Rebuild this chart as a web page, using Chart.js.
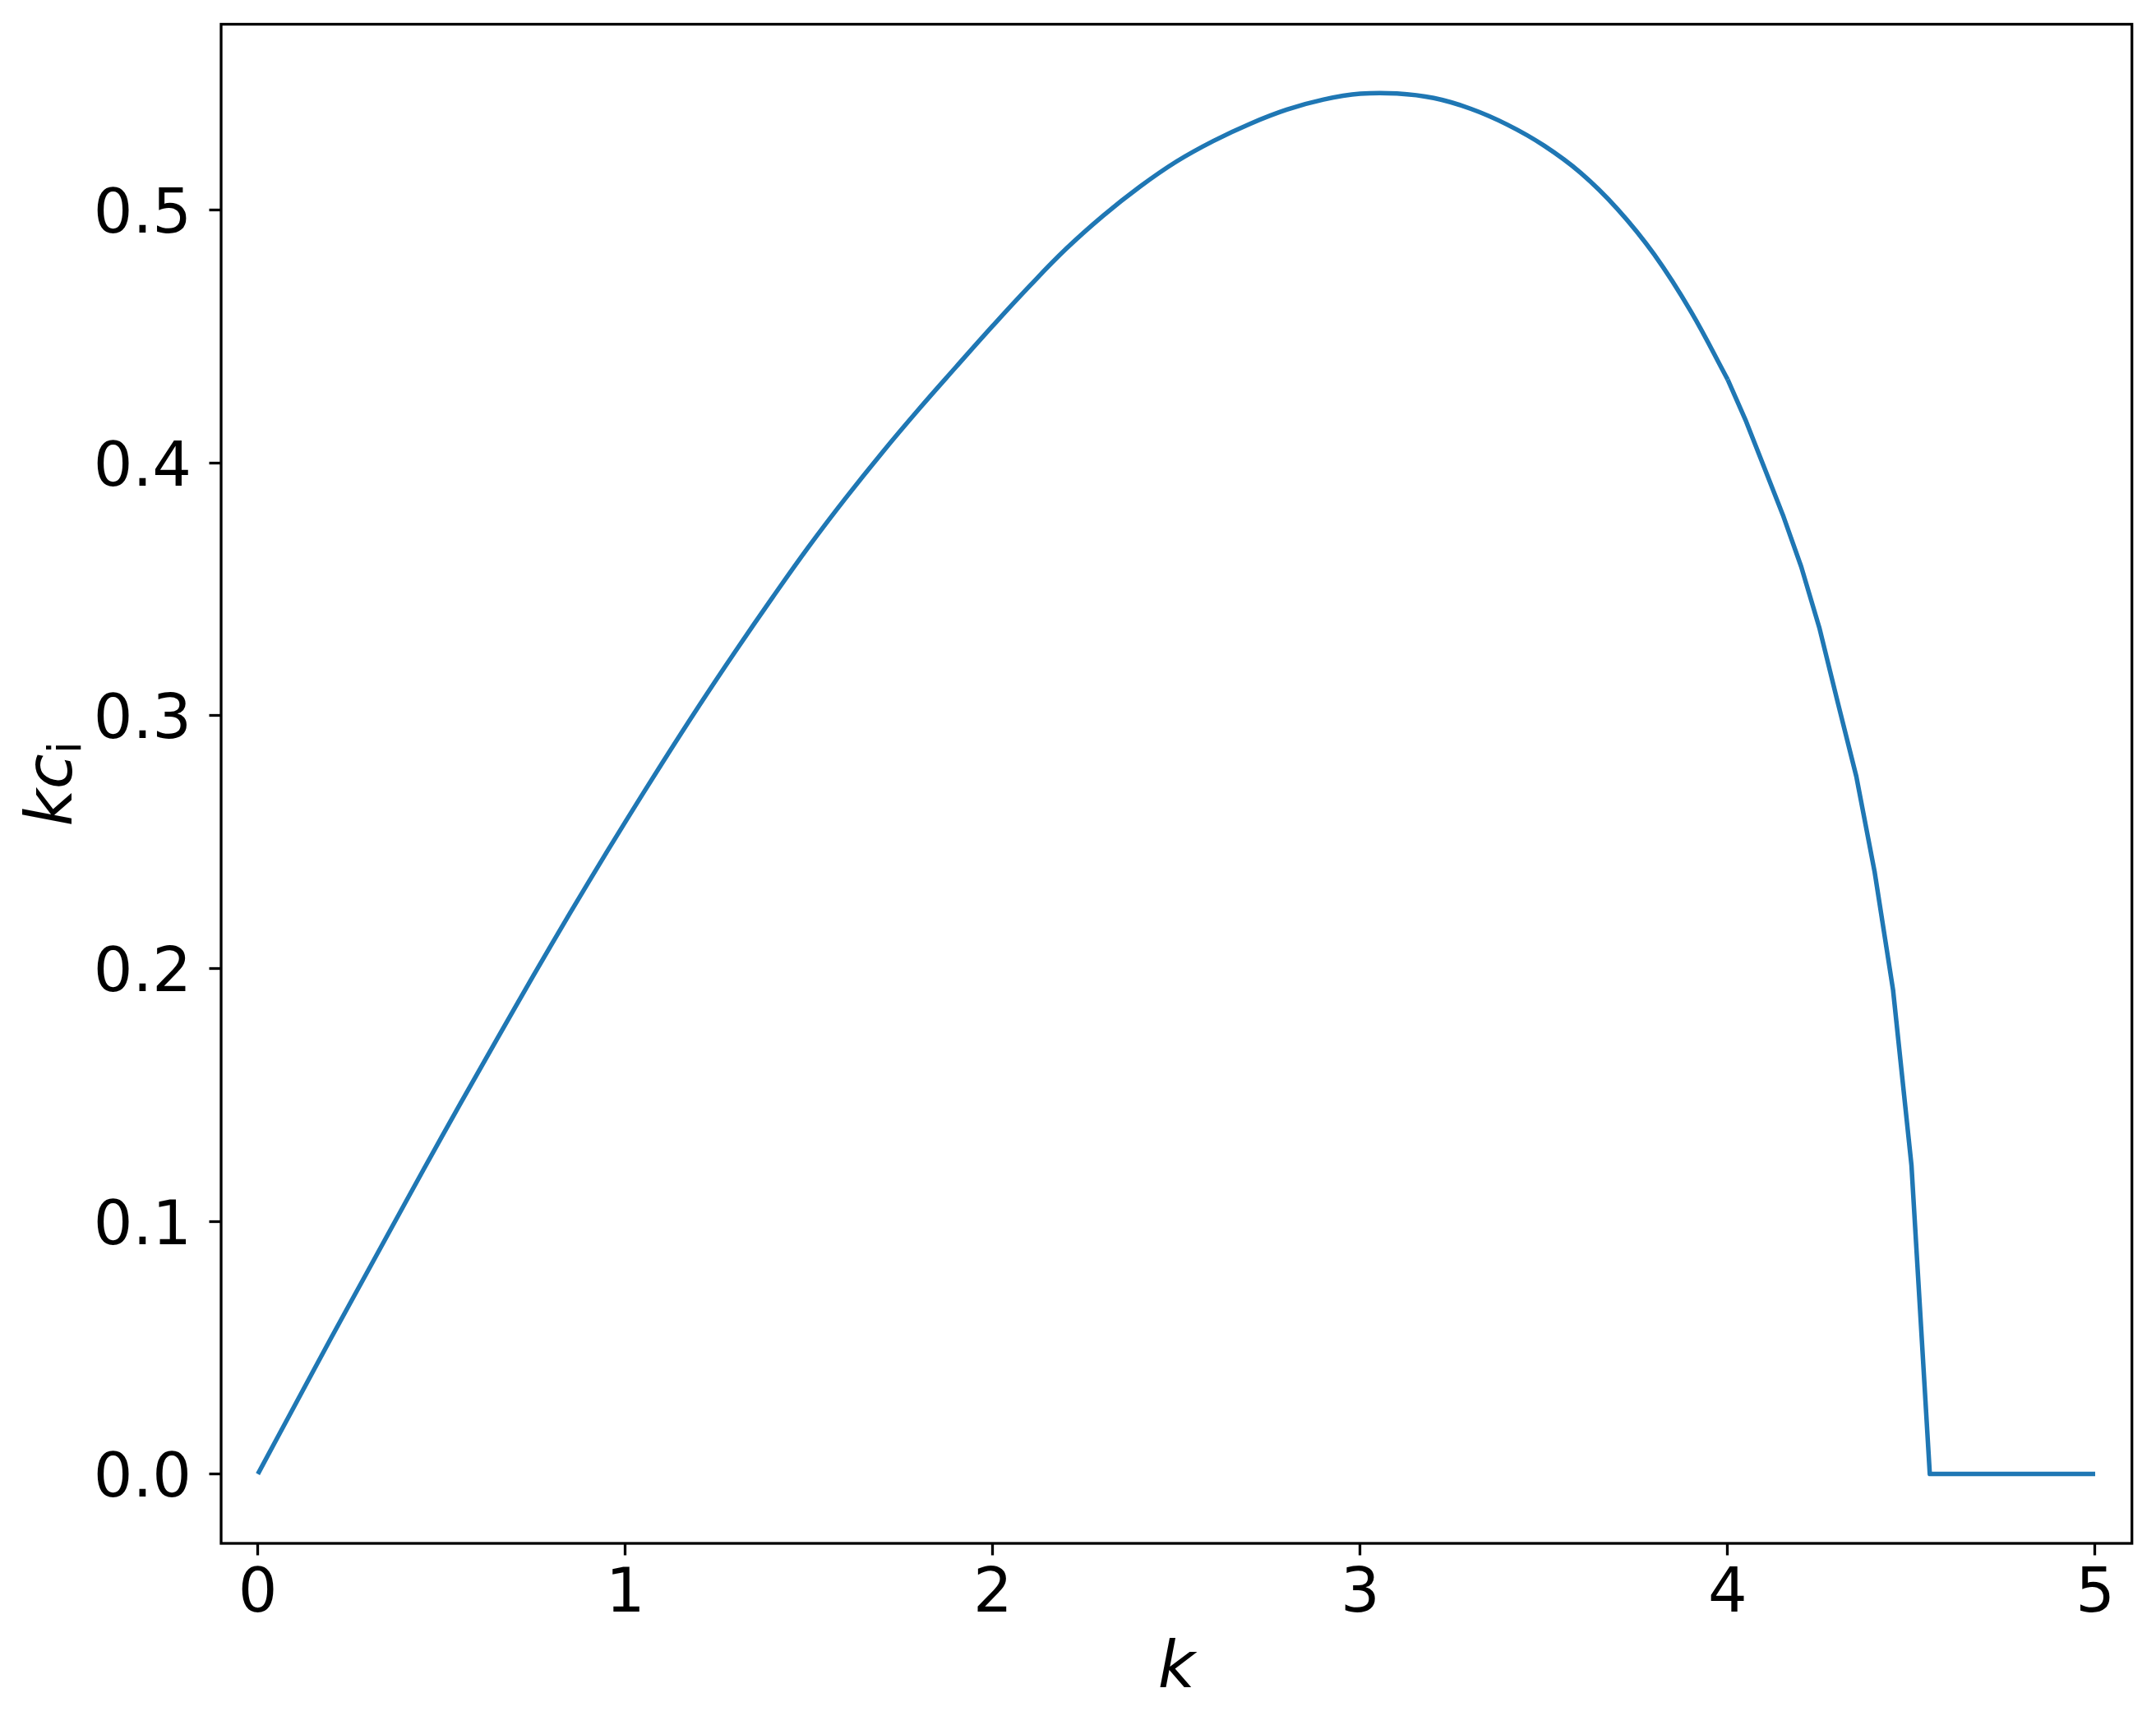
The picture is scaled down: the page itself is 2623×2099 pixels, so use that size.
<!DOCTYPE html>
<html>
<head>
<meta charset="utf-8">
<script src="https://cdn.jsdelivr.net/npm/chart.js@4.4.0/dist/chart.umd.min.js"></script>
<style>
  html, body { margin: 0; padding: 0; background: #fff; }
  canvas { display: block; }
</style>
</head>
<body>
<canvas id="graph1" width="2623" height="2099"></canvas>
<script>
// wavenumber k
var kValues = [0, 0.1, 0.2, 0.3, 0.4, 0.5, 0.6, 0.7, 0.8, 0.9,
  1.0, 1.1, 1.2, 1.3, 1.4, 1.5, 1.6, 1.7, 1.8, 1.9,
  2.0, 2.1, 2.2, 2.3, 2.4, 2.5, 2.6, 2.7, 2.8, 2.9,
  3.0, 3.1, 3.2, 3.3, 3.4, 3.5, 3.6, 3.7, 3.8, 3.9,
  4.0, 4.05, 4.1, 4.15, 4.2, 4.25, 4.3, 4.35, 4.4, 4.45, 4.5, 4.55, 5.0];

// growth rate k*c_i
var kci = [0, 0.027, 0.054, 0.0805, 0.107, 0.1333, 0.1591, 0.1846, 0.2097, 0.2342,
  0.258, 0.2812, 0.3038, 0.3256, 0.3467, 0.3671, 0.3862, 0.4043, 0.4215, 0.438,
  0.4543, 0.470, 0.4848, 0.4978, 0.5093, 0.5193, 0.5274, 0.5342, 0.5398, 0.5438,
  0.5461, 0.5462, 0.5444, 0.5402, 0.5339, 0.5256, 0.5148, 0.5005, 0.4825, 0.4599,
  0.433, 0.4165, 0.398, 0.3795, 0.359, 0.3345, 0.305, 0.276, 0.2381, 0.1915, 0.1223, 0, 0];

var xTicks = [0, 1, 2, 3, 4, 5];
var yTicks = [0.0, 0.1, 0.2, 0.3, 0.4, 0.5];

// the curve is smooth up to k = 4, then coarse steps near the cutoff
var smoothUntil = 4.0;

var tickFont = { family: 'DejaVu Sans', size: 75 };

var points = kValues.map(function(k, i) { return { x: k, y: kci[i] }; });

// full box around the plot, like matplotlib spines
var frame = {
  id: 'frame',
  afterDatasetsDraw: function(chart) {
    var a = chart.chartArea, ctx = chart.ctx;
    ctx.save();
    ctx.strokeStyle = '#000';
    ctx.lineWidth = 3.3;
    ctx.strokeRect(a.left, a.top, a.right - a.left, a.bottom - a.top);
    ctx.restore();
  }
};

// axis titles with italic k and subscript i
var axisTitles = {
  id: 'axisTitles',
  afterDraw: function(chart) {
    var a = chart.chartArea, ctx = chart.ctx;
    ctx.save();
    ctx.fillStyle = '#000';
    ctx.textBaseline = 'alphabetic';

    ctx.font = 'italic 78px "DejaVu Sans"';
    ctx.textAlign = 'center';
    ctx.fillText('k', (a.left + a.right) / 2, 2053);

    ctx.translate(86.7, (a.top + a.bottom) / 2);
    ctx.rotate(-Math.PI / 2);
    ctx.textAlign = 'left';
    ctx.font = 'italic 78px "DejaVu Sans"';
    var w1 = ctx.measureText('kc').width;
    ctx.font = '55px "DejaVu Sans"';
    var w2 = ctx.measureText('i').width;
    var x0 = -(w1 + w2) / 2;
    ctx.font = 'italic 78px "DejaVu Sans"';
    ctx.fillText('kc', x0, 0);
    ctx.font = '55px "DejaVu Sans"';
    ctx.fillText('i', x0 + w1, 11);
    ctx.restore();
  }
};

function noEdgePadding(scale) {
  scale.paddingTop = 0;
  scale.paddingBottom = 0;
  scale.paddingLeft = 0;
  scale.paddingRight = 0;
}

var lineStyle = {
  borderColor: '#1f77b4',
  borderWidth: 5.5,
  borderJoinStyle: 'round',
  pointRadius: 0,
  fill: false
};

let graph1 = document.getElementById("graph1").getContext("2d");
var chart = new Chart(graph1, {
  type: 'line',
  data: {
    datasets: [
      Object.assign({
        data: points.filter(function(p) { return p.x <= smoothUntil; }),
        tension: 0.4
      }, lineStyle),
      Object.assign({
        data: points.filter(function(p) { return p.x >= smoothUntil; }),
        tension: 0
      }, lineStyle)
    ]
  },
  options: {
    responsive: false,
    devicePixelRatio: 1,
    animation: false,
    layout: { padding: { left: 0, top: 29.5, right: 29.3, bottom: 0 } },
    plugins: {
      legend: { display: false },
      tooltip: { enabled: false }
    },
    scales: {
      x: {
        type: 'linear',
        min: -0.1,
        max: 5.1,
        afterBuildTicks: function(scale) {
          scale.ticks = xTicks.map(function(v) { return { value: v }; });
        },
        afterFit: function(scale) {
          scale.height = 221;
          noEdgePadding(scale);
        },
        ticks: {
          font: tickFont,
          color: '#000',
          padding: 4,
          maxRotation: 0,
          autoSkip: false,
          callback: function(v) { return String(v); }
        },
        grid: {
          drawOnChartArea: false,
          drawTicks: true,
          tickLength: 14.5,
          tickWidth: 3.3,
          tickColor: '#000'
        },
        border: { display: false }
      },
      y: {
        min: -0.02745,
        max: 0.5736,
        afterBuildTicks: function(scale) {
          scale.ticks = yTicks.map(function(v) { return { value: v }; });
        },
        afterFit: function(scale) {
          scale.width = 269;
          noEdgePadding(scale);
        },
        ticks: {
          font: tickFont,
          color: '#000',
          padding: 21.5,
          labelOffset: 8,
          autoSkip: false,
          callback: function(v) { return v.toFixed(1); }
        },
        grid: {
          drawOnChartArea: false,
          drawTicks: true,
          tickLength: 14.5,
          tickWidth: 3.3,
          tickColor: '#000'
        },
        border: { display: false }
      }
    }
  },
  plugins: [frame, axisTitles]
});
</script>
</body>
</html>
